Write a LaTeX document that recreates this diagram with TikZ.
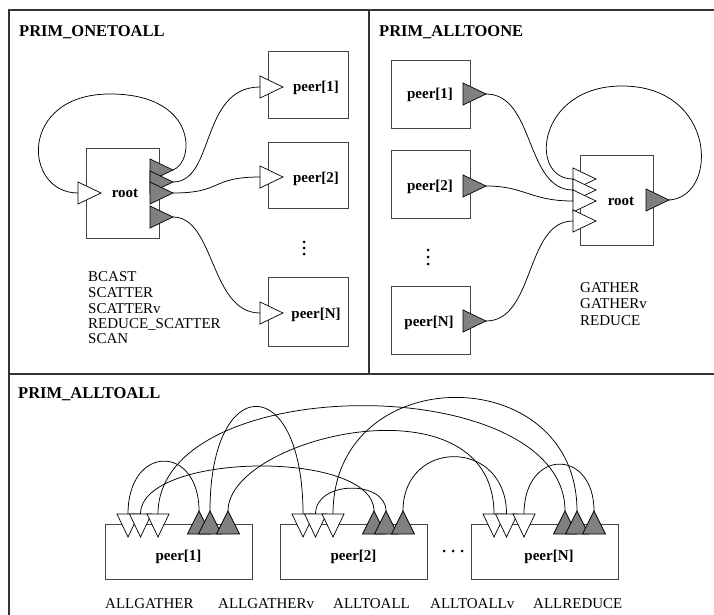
\documentclass[tikz,border=0pt]{standalone}
\usepackage{fontspec}
\setmainfont{Liberation Serif}
\definecolor{boxc}{HTML}{444444}
\definecolor{framec}{HTML}{333333}
\definecolor{trigray}{HTML}{808080}
\newcommand{\trir}[4]{% name, base x, centre y, fill; apex to the right
  \draw[tri,fill=#4] (#2,#3-11) -- (#2+23,#3) -- (#2,#3+11) -- cycle;
  \coordinate (#1b) at (#2,#3);
  \coordinate (#1t) at (#2+23,#3);}
\newcommand{\trid}[2]{% name, tip x; white, apex down
  \draw[tri,fill=white] (#2-11,514) -- (#2,537) -- (#2+11,514) -- cycle;
  \coordinate (#1) at (#2,514);}
\newcommand{\triu}[2]{% name, apex x; gray, apex up
  \draw[tri,fill=trigray] (#2-11.5,534) -- (#2,511) -- (#2+11.5,534) -- cycle;
  \coordinate (#1) at (#2,511);}
\begin{document}
\begin{tikzpicture}[x=1pt,y=-1pt,
  frame/.style={draw=framec,line width=1.4pt},
  box/.style={draw=boxc,fill=white,line width=0.9pt,inner sep=0pt,outer sep=0pt},
  tri/.style={draw=black,line width=0.7pt,line join=miter},
  wire/.style={draw=black,line width=0.75pt},
  title/.style={font=\fontsize{16.5}{18}\selectfont\bfseries,anchor=base west,inner sep=0pt},
  lbl/.style={font=\fontsize{15}{17}\selectfont\bfseries,anchor=base,inner sep=0pt},
  op/.style={font=\fontsize{15}{17}\selectfont,anchor=base west,inner sep=0pt},
  dot/.style={fill=black,circle,inner sep=0pt,minimum size=3pt}]
\useasboundingbox (0,0) rectangle (714,615);
\clip (0,0) rectangle (714,615);
\fill[white] (0,0) rectangle (714,615);
% frame
\draw[frame] (9,10) rectangle (740,640);
\draw[frame] (369,10) -- (369,374);
\draw[frame] (9,374) -- (740,374);

%%%%%%%%%%%%%%%% PRIM_ONETOALL
\node[title] (t1) at (19,37) {PRIM\_ONETOALL};
\node[box,minimum width=73pt,minimum height=90pt] (root1) at (122.5,193) {};
\node[box,minimum width=80pt,minimum height=67pt] (a1) at (308,84.5) {};
\node[box,minimum width=80pt,minimum height=66pt] (a2) at (308,175) {};
\node[box,minimum width=80pt,minimum height=69pt] (aN) at (308,311.5) {};
\node[lbl] (root1l) at (125,197) {root};
\node[lbl] (a1l) at (316,92) {peer[1]};
\node[lbl] (a2l) at (316,182) {peer[2]};
\node[lbl] (aNl) at (316,318) {peer[N]};
\node[dot] (d1a) at (304,242) {};
\node[dot] (d1b) at (304,248) {};
\node[dot] (d1c) at (304,254) {};
\trir{ri}{78}{193}{white}
\trir{ro1}{150}{170}{trigray}
\trir{ro2}{150}{182}{trigray}
\trir{ro3}{150}{193}{trigray}
\trir{ro4}{150}{217}{trigray}
\trir{ai1}{260}{87}{white}
\trir{ai2}{260}{177}{white}
\trir{aiN}{260}{313}{white}
\draw[wire] (ro1t) .. controls +(22,-8) and +(88,0) .. (110,94)
            .. controls +(-92,0) and +(-55,0) .. (rib);
\draw[wire] (ro2t) .. controls +(42,0) and +(-60,0) .. (ai1b);
\draw[wire] (ro3t) .. controls +(50,0) and +(-50,0) .. (ai2b);
\draw[wire] (ro4t) .. controls +(42,0) and +(-50,0) .. (aiNb);
\node[op] (o1) at (88,281) {BCAST};
\node[op] (o2) at (88,297) {SCATTER};
\node[op] (o3) at (88,313) {SCATTERv};
\node[op] (o4) at (88,328) {REDUCE\_SCATTER};
\node[op] (o5) at (88,343) {SCAN};

%%%%%%%%%%%%%%%% PRIM_ALLTOONE
\node[title] (t2) at (379,37) {PRIM\_ALLTOONE};
\node[box,minimum width=79pt,minimum height=68pt] (b1) at (430.5,94) {};
\node[box,minimum width=79pt,minimum height=68pt] (b2) at (430.5,184) {};
\node[box,minimum width=79pt,minimum height=68pt] (bN) at (430.5,320) {};
\node[box,minimum width=73pt,minimum height=90pt] (root2) at (616.5,200) {};
\node[lbl] (b1l) at (430,98.5) {peer[1]};
\node[lbl] (b2l) at (430,190.5) {peer[2]};
\node[lbl] (bNl) at (429,326) {peer[N]};
\node[lbl] (root2l) at (621,205) {root};
\node[dot] (d2a) at (428,250) {};
\node[dot] (d2b) at (428,257) {};
\node[dot] (d2c) at (428,264) {};
\trir{bo1}{463}{94}{trigray}
\trir{bo2}{463}{186}{trigray}
\trir{boN}{463}{321}{trigray}
\trir{si1}{573}{179}{white}
\trir{si2}{573}{190}{white}
\trir{si3}{573}{201}{white}
\trir{si4}{573}{221}{white}
\trir{so}{646}{200}{trigray}
\draw[wire] (sot) .. controls +(50,-3) and +(95,0) .. (622,86)
            .. controls +(-85,0) and +(-45,0) .. (si1b);
\draw[wire] (bo1t) .. controls +(49,0) and +(-48,0) .. (si2b);
\draw[wire] (bo2t) .. controls +(39,0) and +(-43,0) .. (si3b);
\draw[wire] (boNt) .. controls +(49,0) and +(-48,0) .. (si4b);
\node[op] (g1) at (580,292) {GATHER};
\node[op] (g2) at (580,308.5) {GATHERv};
\node[op] (g3) at (580,325) {REDUCE};

%%%%%%%%%%%%%%%% PRIM_ALLTOALL
\node[title] (t3) at (18,398) {PRIM\_ALLTOALL};
\node[box,minimum width=147pt,minimum height=55pt] (c1) at (178.5,551.5) {};
\node[box,minimum width=147pt,minimum height=55pt] (c2) at (353.5,551.5) {};
\node[box,minimum width=147pt,minimum height=55pt] (cN) at (544.5,551.5) {};
\node[lbl] (c1l) at (178.5,560) {peer[1]};
\node[lbl] (c2l) at (353.5,560) {peer[2]};
\node[lbl] (cNl) at (549,560) {peer[N]};
\node[dot] (d3a) at (444,551) {};
\node[dot] (d3b) at (453,551) {};
\node[dot] (d3c) at (462,551) {};
% inputs (white) and outputs (gray)
\trid{w11}{128}  \trid{w12}{140.5} \trid{w13}{158}
\trid{w21}{303}  \trid{w22}{315.5} \trid{w23}{333}
\trid{wN1}{494}  \trid{wN2}{506.5} \trid{wN3}{524}
\triu{g11}{199}  \triu{g12}{210}   \triu{g13}{228}
\triu{g21}{374}  \triu{g22}{386}   \triu{g23}{403}
\triu{gN1}{565}  \triu{gN2}{577}   \triu{gN3}{594}
\draw[wire] (g11) .. controls +(0,-67) and +(0,-70) .. (w11);
\draw[wire] (g12) .. controls +(0,-140) and +(0,-143) .. (w21);
\draw[wire] (g13) .. controls +(0,-75) and +(0,-140) .. (wN1);
\draw[wire] (g21) .. controls +(0,-62) and +(0,-62) .. (w12);
\draw[wire] (g22) .. controls +(0,-31) and +(0,-34) .. (w22);
\draw[wire] (g23) .. controls +(0,-73) and +(0,-76) .. (wN2);
\draw[wire] (gN1) .. controls +(0,-141) and +(0,-144) .. (w13);
\draw[wire] (gN2) .. controls +(0,-152) and +(0,-155) .. (w23);
\draw[wire] (gN3) .. controls +(0,-63) and +(0,-66) .. (wN3);
\node[op] (l1) at (105,608) {ALLGATHER};
\node[op] (l2) at (218,608) {ALLGATHERv};
\node[op] (l3) at (333,608) {ALLTOALL};
\node[op] (l4) at (430,608) {ALLTOALLv};
\node[op] (l5) at (533,608) {ALLREDUCE};
\end{tikzpicture}
\end{document}
